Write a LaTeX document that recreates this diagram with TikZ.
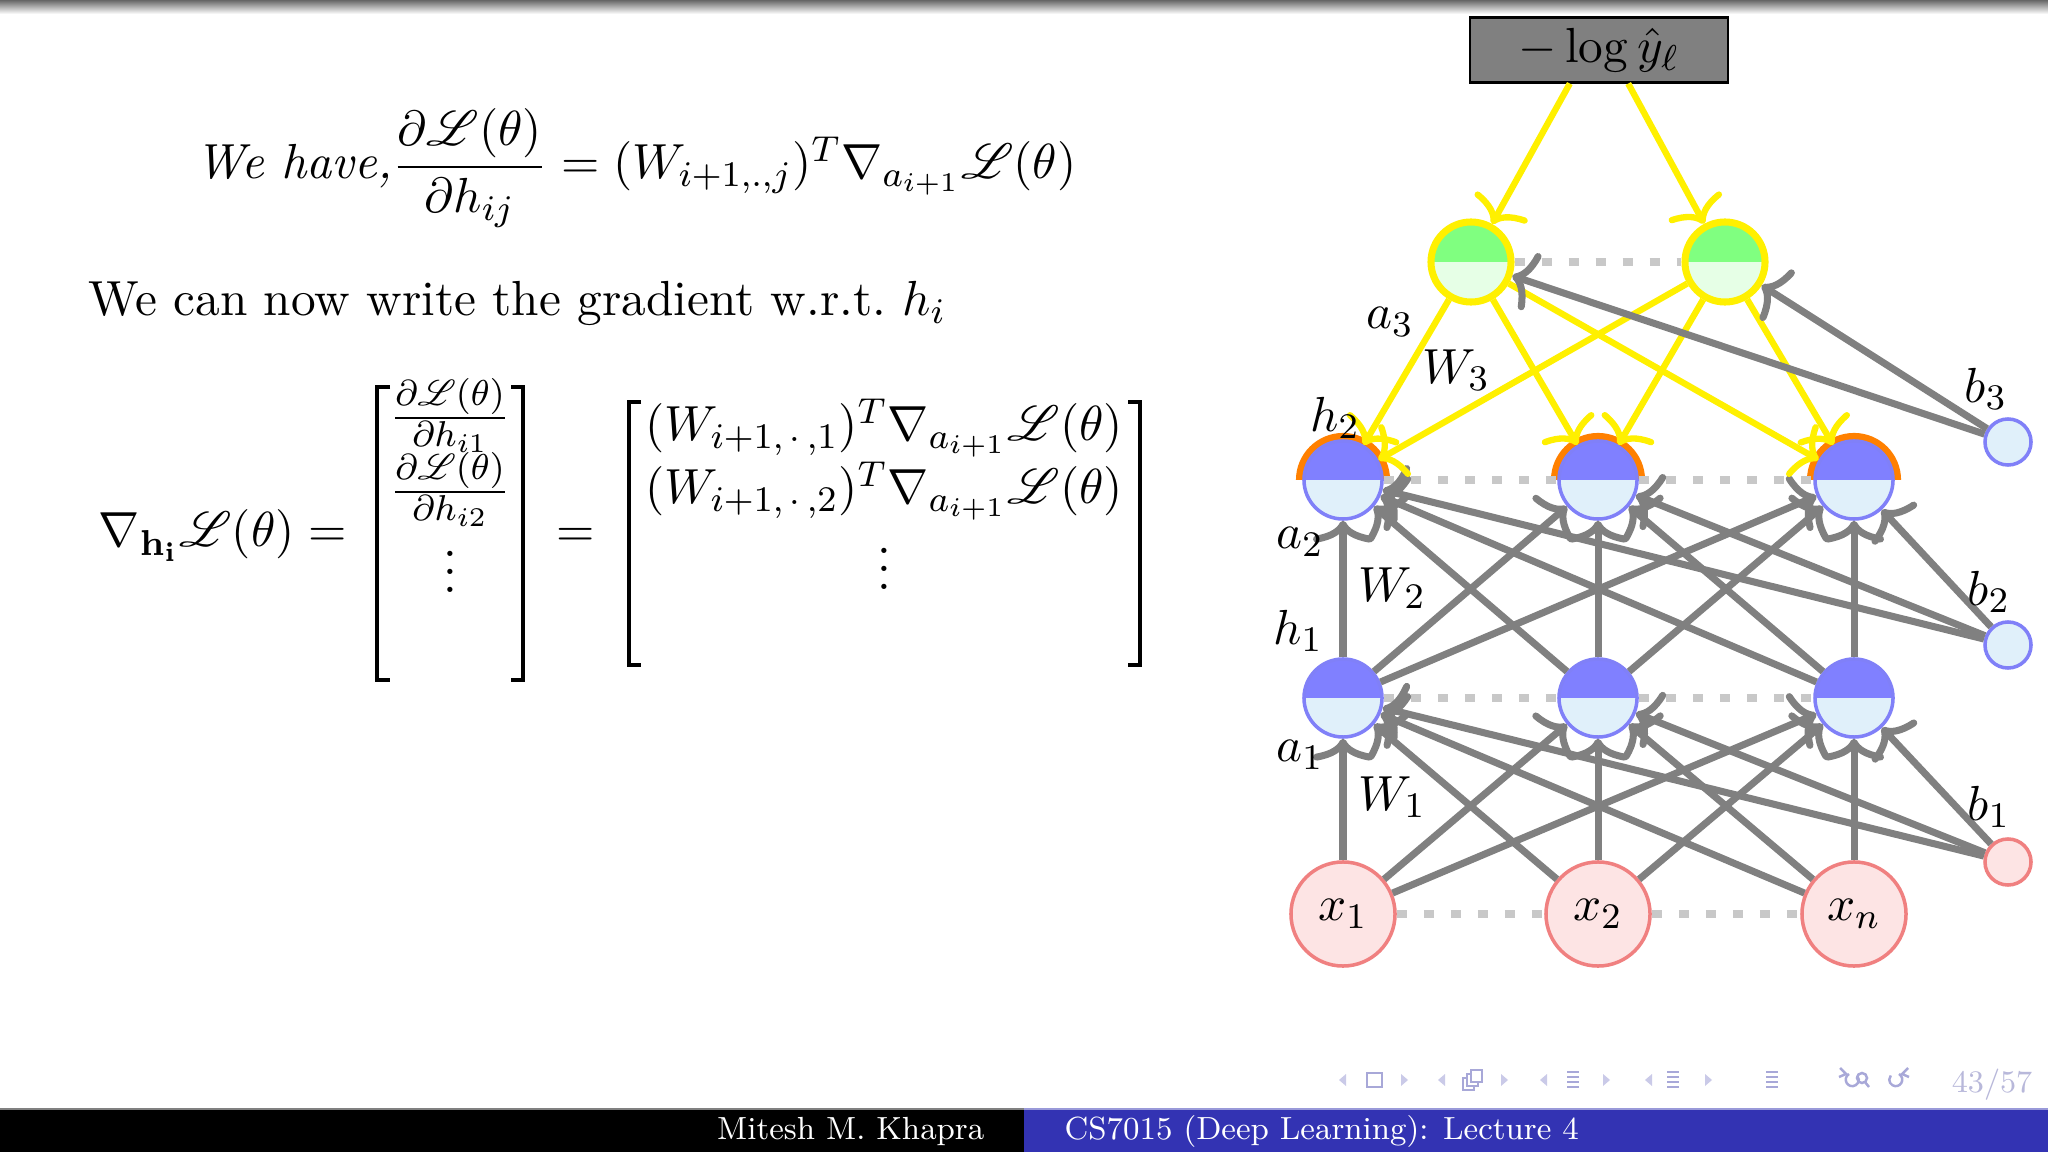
\RequirePackage{fix-cm}
\documentclass[tikz,border=0pt]{standalone}
\usepackage{amsmath,amssymb,mathrsfs,graphicx}
\usetikzlibrary{arrows.meta}
\definecolor{garrc}{HTML}{808080}
\definecolor{yel}{HTML}{FFF000}
\definecolor{htop}{HTML}{8080FF}
\definecolor{hbot}{HTML}{E0F0FA}
\definecolor{hbord}{HTML}{8080F8}
\definecolor{otop}{HTML}{80FF80}
\definecolor{obot}{HTML}{E6FFE6}
\definecolor{xfill}{HTML}{FDE4E4}
\definecolor{xbord}{HTML}{F08080}
\definecolor{dotgray}{HTML}{C8C8C8}
\definecolor{boxgray}{HTML}{808080}
\definecolor{footblue}{HTML}{3333B3}
\definecolor{navc}{HTML}{CACAE8}
\definecolor{navd}{HTML}{A8A8D8}
\definecolor{pagec}{HTML}{B8B8DA}
\definecolor{orng}{HTML}{FF8000}
\newcommand{\sbx}[1]{\scalebox{1.28}{#1}}
\begin{document}
\begin{tikzpicture}[x=0.01cm,y=-0.01cm,font=\fontsize{10.95}{13.6}\selectfont,
  hid/.style={circle,minimum size=0.78cm,inner sep=0pt,draw=hbord,line width=1pt,
    path picture={\fill[hbot] (path picture bounding box.south west) rectangle (path picture bounding box.east);
      \fill[htop] (path picture bounding box.west) rectangle (path picture bounding box.north east);}},
  outn/.style={circle,minimum size=0.80cm,inner sep=0pt,draw=yel,line width=2pt,
    path picture={\fill[obot] (path picture bounding box.south west) rectangle (path picture bounding box.east);
      \fill[otop] (path picture bounding box.west) rectangle (path picture bounding box.north east);}},
  inp/.style={circle,minimum size=1.04cm,inner sep=0pt,draw=xbord,line width=1pt,fill=xfill},
  biasb/.style={circle,minimum size=0.46cm,inner sep=0pt,draw=hbord,line width=1pt,fill=hbot},
  biasr/.style={circle,minimum size=0.46cm,inner sep=0pt,draw=xbord,line width=1pt,fill=xfill},
  garr/.style={draw=garrc,line width=2pt,-{To[length=4pt,width=11pt,scale=1.55]}},
  yarr/.style={draw=yel,line width=1.8pt,-{To[length=4pt,width=11pt,scale=1.55]}},
  dotl/.style={draw=dotgray,line width=2.2pt,dash pattern=on 1mm off 1.7mm},
  lab/.style={inner sep=0pt},
  brk/.style={line width=1.2pt},
  txt/.style={inner sep=0pt},
  navl/.style={navd,line width=0.7pt}
]
\useasboundingbox (0,0) rectangle (2048,1152);
\fill[white] (0,0) rectangle (2048,1152);
\shade[top color=black!60,bottom color=white] (0,0) rectangle (2048,14);

% ---------- left text ----------
\node[txt,anchor=base west] (eq1) at (195,179)
  {\sbx{$\textit{We have,}\dfrac{\partial\mathscr{L}(\theta)}{\partial h_{ij}} = (W_{i+1,.,j})^T\nabla_{a_{i+1}}\mathscr{L}(\theta)$}};
\node[txt,anchor=base west] (line2) at (88,316) {\sbx{We can now write the gradient w.r.t.\ $h_i$}};
\node[txt,anchor=base west] (lhs) at (98,547) {\sbx{$\nabla_{\mathbf{h_i}}\mathscr{L}(\theta) =$}};
\draw[brk] (390,387) -- (377,387) -- (377,680) -- (390,680);
\draw[brk] (511,387) -- (523,387) -- (523,680) -- (511,680);
\node[txt,anchor=base] (m11) at (450,430) {\sbx{$\frac{\partial\mathscr{L}(\theta)}{\partial h_{i1}}$}};
\node[txt,anchor=base] (m12) at (450,504) {\sbx{$\frac{\partial\mathscr{L}(\theta)}{\partial h_{i2}}$}};
\node[txt,anchor=base] (m13) at (450,593) {\sbx{$\vdots$}};
\node[txt,anchor=base] (eq2) at (576,547) {\sbx{$=$}};
\draw[brk] (641,402) -- (629,402) -- (629,665) -- (641,665);
\draw[brk] (1128,402) -- (1140,402) -- (1140,665) -- (1128,665);
\node[txt,anchor=base] (m21) at (884,441) {\sbx{$(W_{i+1,\,\cdot\,,1})^T\nabla_{a_{i+1}}\mathscr{L}(\theta)$}};
\node[txt,anchor=base] (m22) at (884,504) {\sbx{$(W_{i+1,\,\cdot\,,2})^T\nabla_{a_{i+1}}\mathscr{L}(\theta)$}};
\node[txt,anchor=base] (m23) at (884,590) {\sbx{$\vdots$}};

% ---------- network ----------
\foreach \cx in {1343,1598,1854}{
  \begin{scope}
    \clip (\cx-60,400) rectangle (\cx+60,480);
    \draw[orng,line width=2.3pt] (\cx,480) circle[radius=0.43cm];
  \end{scope}
}
\node[draw=black,line width=0.6pt,fill=boxgray,minimum width=2.57cm,minimum height=0.65cm,inner sep=0pt] (loss) at (1599,50) {\sbx{$-\log\hat{y}_\ell$}};
\node[outn] (o1) at (1471,262) {};
\node[outn] (o2) at (1725,262) {};
\node[hid] (h21) at (1343,480) {};
\node[hid] (h22) at (1598,480) {};
\node[hid] (h23) at (1854,480) {};
\node[hid] (h11) at (1343,698) {};
\node[hid] (h12) at (1598,698) {};
\node[hid] (h13) at (1854,698) {};
\node[inp] (x1) at (1343,914) {\sbx{$x_1$}};
\node[inp] (x2) at (1598,914) {\sbx{$x_2$}};
\node[inp] (x3) at (1854,914) {\sbx{$x_n$}};
\node[biasb] (b3) at (2008,442) {};
\node[biasb] (b2) at (2008,645) {};
\node[biasr] (b1) at (2008,862) {};

\draw[dotl] (x1) -- (x2);
\draw[dotl] (x2) -- (x3);
\draw[dotl] (h11) -- (h12);
\draw[dotl] (h12) -- (h13);
\draw[dotl] (h21) -- (h22);
\draw[dotl] (h22) -- (h23);
\draw[dotl] (o1) -- (o2);

\foreach \i in {1,2,3}{
  \foreach \j in {1,2,3}{
    \draw[garr] (x\i) -- (h1\j);
    \draw[garr] (h1\i) -- (h2\j);
  }
}
\foreach \j in {1,2,3}{
  \draw[garr] (b1) -- (h1\j);
  \draw[garr] (b2) -- (h2\j);
}
\draw[yarr] (loss.229) -- (o1);
\draw[yarr] (loss.311) -- (o2);
\foreach \i in {1,2}{
  \foreach \j in {1,2,3}{
    \draw[yarr] (o\i) -- (h2\j);
  }
}
\foreach \j in {1,2}{
  \draw[garr] (b3) -- (o\j);
}

\node[lab] (la3) at (1390,322) {\sbx{$a_3$}};
\node[lab] (lw3) at (1456,370) {\sbx{$W_3$}};
\node[lab] (lh2) at (1335,418) {\sbx{$h_2$}};
\node[lab] (la2) at (1300,542) {\sbx{$a_2$}};
\node[lab] (lw2) at (1392,588) {\sbx{$W_2$}};
\node[lab] (lh1) at (1298,631) {\sbx{$h_1$}};
\node[lab] (la1) at (1300,755) {\sbx{$a_1$}};
\node[lab] (lw1) at (1392,797) {\sbx{$W_1$}};
\node[lab] (lb3) at (1986,389) {\sbx{$b_3$}};
\node[lab] (lb2) at (1989,592) {\sbx{$b_2$}};
\node[lab] (lb1) at (1989,807) {\sbx{$b_1$}};

% ---------- navigation ----------
\foreach \xa/\xb in {1339/1401,1438/1501,1540/1603,1645/1705}{
  \fill[navc] (\xa+7,1074) -- (\xa,1080) -- (\xa+7,1086) -- cycle;
  \fill[navc] (\xb,1074) -- (\xb+7,1080) -- (\xb,1086) -- cycle;
}
\draw[navl] (1367,1073) rectangle (1382,1087);
\draw[navl,fill=white] (1463,1078) rectangle (1474,1090);
\draw[navl,fill=white] (1467,1074) rectangle (1478,1086);
\draw[navl,fill=white] (1471,1070) rectangle (1482,1082);
\foreach \xs in {1567,1667,1766}{
  \foreach \yy in {1072,1077,1082,1087}{
    \draw[navd,line width=0.8pt] (\xs,\yy) -- (\xs+12,\yy);
  }
}
\draw[navl] (1849,1074) arc[start angle=120,end angle=400,radius=0.065cm];
\draw[navl] (1840,1068) -- (1846,1074) -- (1839,1077);
\draw[navl] (1862,1078) circle[radius=0.05cm];
\draw[navl] (1865,1082) -- (1869,1087);
\draw[navl] (1899,1074) arc[start angle=60,end angle=-220,radius=0.065cm];
\draw[navl] (1908,1068) -- (1902,1074) -- (1909,1077);
\node[txt,anchor=base east,text=pagec,font=\fontsize{8.9}{10}\selectfont] (page) at (2033,1092) {43/57};

% ---------- footer ----------
\fill[black] (0,1109) rectangle (1024,1152);
\fill[footblue] (1024,1109) rectangle (2048,1152);
\draw[garrc,line width=0.6pt] (0,1109) -- (1024,1109);
\draw[footblue!50!white,line width=0.6pt] (1024,1109) -- (2048,1109);
\node[txt,anchor=base east,text=white,font=\fontsize{9.1}{11}\selectfont] (auth) at (985,1139) {Mitesh M. Khapra};
\node[txt,anchor=base west,text=white,font=\fontsize{9.1}{11}\selectfont] (course) at (1064,1139) {CS7015 (Deep Learning): Lecture 4};
\end{tikzpicture}
\end{document}
